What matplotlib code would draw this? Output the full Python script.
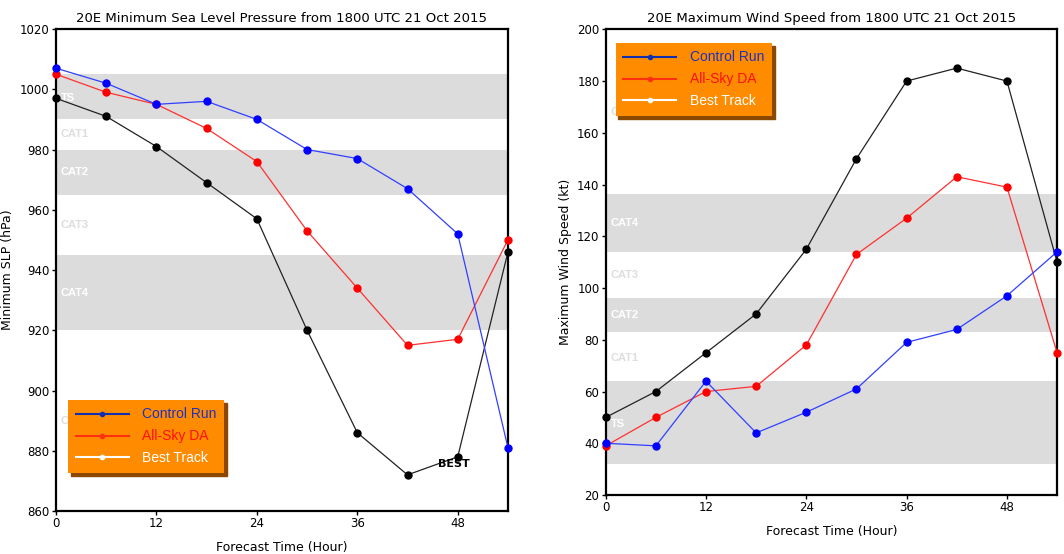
import matplotlib
matplotlib.use('Agg')
import matplotlib.pyplot as plt
from matplotlib.lines import Line2D

hours = [0, 6, 12, 18, 24, 30, 36, 42, 48, 54]

# minimum sea level pressure (hPa)
slp_ctrl = [1007, 1002, 995, 996, 990, 980, 977, 967, 952, 881]
slp_da = [1005, 999, 995, 987, 976, 953, 934, 915, 917, 950]
slp_best = [997, 991, 981, 969, 957, 920, 886, 872, 878, 946]

# maximum wind speed (kt)
wind_ctrl = [40, 39, 64, 44, 52, 61, 79, 84, 97, 114]
wind_da = [39, 50, 60, 62, 78, 113, 127, 143, 139, 75]
wind_best = [50, 60, 75, 90, 115, 150, 180, 185, 180, 110]

# category bands: (name, low, high, shaded)
slp_cats = [('TS', 990, 1005, True), ('CAT1', 980, 990, False),
            ('CAT2', 965, 980, True), ('CAT3', 945, 965, False),
            ('CAT4', 920, 945, True), ('CAT5', 860, 920, False)]
wind_cats = [('TS', 32, 64, True), ('CAT1', 64, 83, False),
             ('CAT2', 83, 96, True), ('CAT3', 96, 114, False),
             ('CAT4', 114, 136.5, True), ('CAT5', 136.5, 200, False)]

fig = plt.figure(figsize=(10.64, 5.54), dpi=100)
ax1 = fig.add_axes([0.0526, 0.0776, 0.4248, 0.870])
ax2 = fig.add_axes([0.5693, 0.1065, 0.4242, 0.8406])


def draw_bands(ax, cats, label_y):
    for (name, lo, hi, shaded), ly in zip(cats, label_y):
        if shaded:
            ax.axhspan(lo, hi, color='#dcdcdc', lw=0, zorder=0)
        ax.text(0.6, ly, name, color='white' if shaded else '#dddddd',
                fontsize=8, fontweight='bold', family='Liberation Sans',
                va='center', ha='left', zorder=1)


def style(ax, title, ylabel, ylim, yticks):
    ax.set_xlim(0, 54)
    ax.set_ylim(*ylim)
    ax.set_xticks([0, 12, 24, 36, 48])
    ax.set_yticks(yticks)
    ax.tick_params(direction='out', length=3, width=1, labelsize=8.5, pad=1.5)
    for s in ax.spines.values():
        s.set_linewidth(1.6)
    ax.set_title(title, fontsize=9.5, pad=5)
    ax.set_xlabel('Forecast Time (Hour)', fontsize=9, labelpad=8)
    ax.set_ylabel(ylabel, fontsize=9, labelpad=4)


def draw_lines(ax, ctrl, da, best):
    kw = dict(lw=0.9, marker='o', ms=5, zorder=3, clip_on=False)
    ax.plot(hours, best, color='#222222', mfc='black', mec='black', **kw)
    ax.plot(hours, da, color='#ff3030', mfc='red', mec='red', **kw)
    ax.plot(hours, ctrl, color='#3040ff', mfc='blue', mec='blue', **kw)


def draw_legend(ax, loc, anchor):
    handles = [Line2D([], [], color='#1030b0', lw=1.5, marker='o', ms=3),
               Line2D([], [], color='#ff3010', lw=1.5, marker='o', ms=3),
               Line2D([], [], color='white', lw=1.5, marker='o', ms=3)]
    leg = ax.legend(handles, ['Control Run', 'All-Sky DA', 'Best Track'],
                    loc=loc, bbox_to_anchor=anchor, frameon=True,
                    fancybox=False, facecolor='#ff8c00', edgecolor='none',
                    framealpha=1, shadow={'color': '#8a4800', 'alpha': 1},
                    handlelength=3.8, handletextpad=1.0, labelspacing=0.57,
                    borderpad=0.55, borderaxespad=0,
                    prop={'family': 'Liberation Sans', 'size': 10},
                    labelcolor=['#2030c0', '#ff1010', 'white'])
    leg.set_zorder(5)


draw_bands(ax1, slp_cats, [997, 985, 972.5, 955, 932.5, 890])
draw_lines(ax1, slp_ctrl, slp_da, slp_best)
style(ax1, '20E Minimum Sea Level Pressure from 1800 UTC 21 Oct 2015',
      'Minimum SLP (hPa)', (860, 1020), range(860, 1021, 20))
ax1.text(45.6, 875.5, 'BEST', fontsize=8, fontweight='bold', color='black',
         ha='left', va='center', zorder=4)
draw_legend(ax1, 'lower left', (0.027, 0.079))

draw_bands(ax2, wind_cats, [47.5, 73, 89.5, 105, 125, 168])
draw_lines(ax2, wind_ctrl, wind_da, wind_best)
style(ax2, '20E Maximum Wind Speed from 1800 UTC 21 Oct 2015',
      'Maximum Wind Speed (kt)', (20, 200), range(20, 201, 20))
draw_legend(ax2, 'upper left', (0.022, 0.971))

fig.savefig('out.png', dpi=100)
